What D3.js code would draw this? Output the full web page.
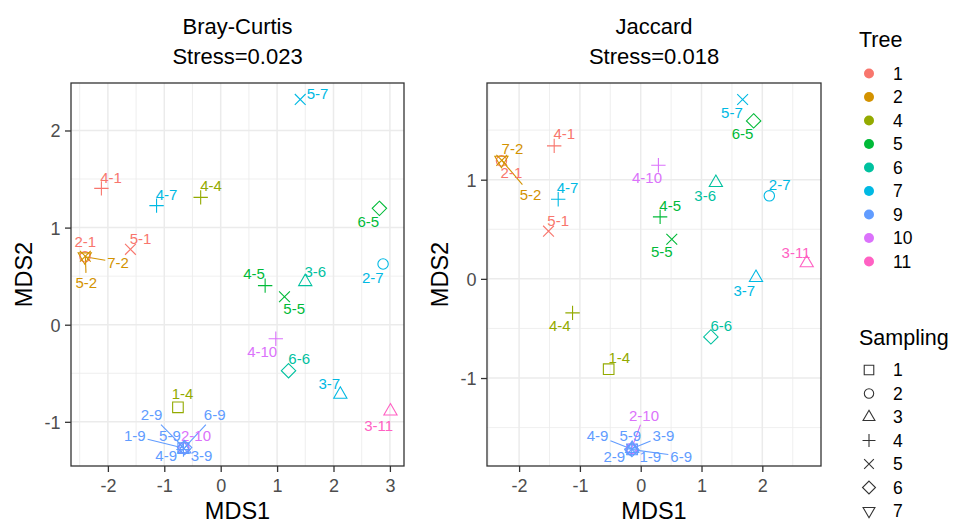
<!DOCTYPE html>
<html>
<head>
<meta charset="utf-8">
<script src="https://cdn.jsdelivr.net/npm/d3@7"></script>
<style>
  body { margin: 0; background: #fff; }
  svg { display: block; font-family: "Liberation Sans", Arial, Helvetica, sans-serif; }
</style>
</head>
<body>
<svg id="chart" width="962" height="523"></svg>
<script>
// ---------- data ----------
const sampling = [1, 1, 2, 2, 2, 2, 3, 3, 3, 3, 4, 4, 4, 4, 4, 4, 5, 5, 5, 5, 5, 6, 6, 6, 7];
const tree     = [4, 9, 1, 7, 9, 10, 6, 7, 9, 11, 1, 4, 5, 7, 9, 10, 1, 2, 5, 7, 9, 5, 6, 9, 2];

// Bray-Curtis NMDS coordinates
const bcX = [-0.758, -0.665, -2.406, 2.879, -0.655, -0.655, 1.499, 2.121, -0.645, 3.01,
             -2.115, -0.355, 0.788, -1.137, -0.66, 0.977, -1.6, -2.40, 1.131, 1.41,
             -0.65, 2.814, 1.203, -0.64, -2.41];
const bcY = [-0.851, -1.27, 0.70, 0.625, -1.265, -1.27, 0.443, -0.717, -1.28, -0.889,
             1.404, 1.311, 0.402, 1.226, -1.285, -0.144, 0.776, 0.705, 0.288, 2.32,
             -1.275, 1.198, -0.474, -1.265, 0.70];
// repelled label anchors (data units)
const bcLabelX = [-0.675, -1.523, -2.399, 2.696, -1.226, -0.438, 1.677, 1.925, -0.338, 2.802,
                  -1.943, -0.172, 0.592, -0.96, -0.966, 0.735, -1.422, -2.382, 1.303, 1.718,
                  -0.9, 2.618, 1.392, -0.107, -1.819];
const bcLabelY = [-0.707, -1.147, 0.855, 0.487, -0.93, -1.147, 0.546, -0.611, -1.353, -1.04,
                  1.517, 1.428, 0.529, 1.342, -1.353, -0.278, 0.889, 0.436, 0.165, 2.376,
                  -1.147, 1.061, -0.354, -0.93, 0.642];

// Jaccard NMDS coordinates
const jcX = [-0.527, -0.14, -2.29, 2.115, -0.155, -0.15, 1.236, 1.896, -0.14, 2.73,
             -1.423, -1.121, 0.319, -1.357, -0.155, 0.291, -1.516, -2.285, 0.511, 1.676,
             -0.148, 1.857, 1.154, -0.145, -2.291];
const jcY = [-0.911, -1.72, 1.19, 0.837, -1.725, -1.71, 0.971, 0.013, -1.71, 0.161,
             1.341, -0.343, 0.625, 0.803, -1.715, 1.146, 0.481, 1.195, 0.40, 1.808,
             -1.718, 1.593, -0.585, -1.722, 1.197];
const jcLabelX = [-0.352, 0.159, -2.126, 2.286, -0.434, 0.055, 1.06, 1.703, 0.374, 2.554,
                  -1.258, -1.33, 0.484, -1.203, -0.709, 0.104, -1.357, -1.813, 0.346, 1.5,
                  -0.17, 1.676, 1.324, 0.665, -2.11];
const jcLabelY = [-0.793, -1.788, 1.069, 0.951, -1.788, -1.375, 0.837, -0.121, -1.583, 0.266,
                  1.466, -0.474, 0.736, 0.921, -1.583, 1.022, 0.592, 0.854, 0.272, 1.677,
                  -1.583, 1.466, -0.474, -1.788, 1.314];

const treeLevels = [1, 2, 4, 5, 6, 7, 9, 10, 11];
const treeColors = ["#F8766D", "#D39200", "#93AA00", "#00BA38", "#00C19F", "#00B9E3", "#619CFF", "#DB72FB", "#FF61C3"];
const samplingLevels = [1, 2, 3, 4, 5, 6, 7];

const panels = [
  { title: "Bray-Curtis", stress: "Stress=0.023", X: bcX, Y: bcY, LX: bcLabelX, LY: bcLabelY,
    xDomain: [-2.654, 3.25], yDomain: [-1.455, 2.489], xTicks: [-2, -1, 0, 1, 2, 3], yTicks: [-1, 0, 1, 2],
    xMinor: [-2.5, -1.5, -0.5, 0.5, 1.5, 2.5], yMinor: [-0.5, 0.5, 1.5] },
  { title: "Jaccard", stress: "Stress=0.018", X: jcX, Y: jcY, LX: jcLabelX, LY: jcLabelY,
    xDomain: [-2.528, 2.965], yDomain: [-1.887, 1.975], xTicks: [-2, -1, 0, 1, 2], yTicks: [-1, 0, 1],
    xMinor: [-2.5, -1.5, -0.5, 0.5, 1.5, 2.5], yMinor: [-1.5, -0.5, 0.5, 1.5] }
];

// ---------- layout ----------
const panelBoxes = [
  { left: 71, right: 404, top: 83, bottom: 466, yTitleX: 32 },
  { left: 487, right: 821, top: 83, bottom: 466, yTitleX: 448 }
];

const color = d3.scaleOrdinal().domain(treeLevels).range(treeColors);
const tickFmt = d => String(d); // ASCII hyphen minus, as in the original

function shapePath(s, k = 1) {
  const p = d3.path();
  switch (s) {
    case 1: { const h = 5.3 * k; p.rect(-h, -h, 2 * h, 2 * h); break; }
    case 2: { p.arc(0, 0, 5.2 * k, 0, 2 * Math.PI); break; }
    case 3: { p.moveTo(0, -7.5 * k); p.lineTo(6.6 * k, 3.9 * k); p.lineTo(-6.6 * k, 3.9 * k); p.closePath(); break; }
    case 4: { const h = 7.2 * k; p.moveTo(-h, 0); p.lineTo(h, 0); p.moveTo(0, -h); p.lineTo(0, h); break; }
    case 5: { const h = 5.4 * k; p.moveTo(-h, -h); p.lineTo(h, h); p.moveTo(-h, h); p.lineTo(h, -h); break; }
    case 6: { const h = 7.2 * k; p.moveTo(0, -h); p.lineTo(h, 0); p.lineTo(0, h); p.lineTo(-h, 0); p.closePath(); break; }
    case 7: { p.moveTo(0, 7.5 * k); p.lineTo(6.6 * k, -3.9 * k); p.lineTo(-6.6 * k, -3.9 * k); p.closePath(); break; }
  }
  return p.toString();
}

const svg = d3.select("#chart");
const gridCol = "#EBEBEB";

panels.forEach((pn, pi) => {
  const b = panelBoxes[pi];
  const x = d3.scaleLinear().domain(pn.xDomain).range([b.left, b.right]);
  const y = d3.scaleLinear().domain(pn.yDomain).range([b.bottom, b.top]);
  const g = svg.append("g");

  // grid
  g.selectAll(".xminor").data(pn.xMinor.filter(v => x(v) > b.left && x(v) < b.right)).join("line")
    .attr("x1", d => x(d)).attr("x2", d => x(d)).attr("y1", b.top).attr("y2", b.bottom)
    .attr("stroke", gridCol).attr("stroke-width", 0.8);
  g.selectAll(".yminor").data(pn.yMinor.filter(v => y(v) > b.top && y(v) < b.bottom)).join("line")
    .attr("y1", d => y(d)).attr("y2", d => y(d)).attr("x1", b.left).attr("x2", b.right)
    .attr("stroke", gridCol).attr("stroke-width", 0.8);
  g.selectAll(".xmajor").data(pn.xTicks).join("line")
    .attr("x1", d => x(d)).attr("x2", d => x(d)).attr("y1", b.top).attr("y2", b.bottom)
    .attr("stroke", gridCol).attr("stroke-width", 1.5);
  g.selectAll(".ymajor").data(pn.yTicks).join("line")
    .attr("y1", d => y(d)).attr("y2", d => y(d)).attr("x1", b.left).attr("x2", b.right)
    .attr("stroke", gridCol).attr("stroke-width", 1.5);

  // axes
  const xAxis = g.append("g").attr("transform", `translate(0,${b.bottom})`)
    .call(d3.axisBottom(x).tickValues(pn.xTicks).tickSize(6).tickPadding(7.5).tickFormat(tickFmt));
  const yAxis = g.append("g").attr("transform", `translate(${b.left},0)`)
    .call(d3.axisLeft(y).tickValues(pn.yTicks).tickSize(6).tickPadding(4.5).tickFormat(tickFmt));
  [xAxis, yAxis].forEach(a => {
    a.select(".domain").remove();
    a.selectAll(".tick line").attr("stroke", "#333").attr("stroke-width", 1.3);
    a.selectAll(".tick text").attr("fill", "#4D4D4D").style("font-size", "18px")
      .style("font-family", "'Liberation Sans', Arial, sans-serif");
  });
  yAxis.selectAll(".tick text").attr("dy", "0.36em");

  // border
  g.append("rect").attr("x", b.left).attr("y", b.top).attr("width", b.right - b.left).attr("height", b.bottom - b.top)
    .attr("fill", "none").attr("stroke", "#333").attr("stroke-width", 1.3);

  // titles
  const cx = (b.left + b.right) / 2;
  g.append("text").attr("x", cx).attr("y", 34).attr("text-anchor", "middle").style("font-size", "22px").text(pn.title);
  g.append("text").attr("x", cx).attr("y", 64).attr("text-anchor", "middle").style("font-size", "22px").text(pn.stress);
  g.append("text").attr("x", cx).attr("y", 519).attr("text-anchor", "middle").style("font-size", "23.5px").text("MDS1");
  g.append("text").attr("transform", `translate(${b.yTitleX},${(b.top + b.bottom) / 2}) rotate(-90)`)
    .attr("text-anchor", "middle").style("font-size", "23.5px").text("MDS2");

  const data = sampling.map((s, i) => ({
    s, t: tree[i], label: s + "-" + tree[i],
    px: x(pn.X[i]), py: y(pn.Y[i]), lx: x(pn.LX[i]), ly: y(pn.LY[i])
  }));

  const layer = g.append("g");
  const labels = layer.selectAll(".lab").data(data).join("text")
    .attr("x", d => d.lx).attr("y", d => d.ly).attr("dy", "0.36em")
    .attr("text-anchor", "middle").attr("fill", d => color(d.t))
    .style("font-size", "15px").text(d => d.label);

  // segments (ggrepel style)
  labels.each(function (d) {
    const w = this.getComputedTextLength();
    const hw = w / 2 + 2, hh = 7.5 + 2;
    const dx = d.px - d.lx, dy = d.py - d.ly;
    const s = Math.min(Math.abs(dx) > 1e-6 ? hw / Math.abs(dx) : Infinity, Math.abs(dy) > 1e-6 ? hh / Math.abs(dy) : Infinity);
    if (s >= 1) return;
    const ex = d.lx + dx * s, ey = d.ly + dy * s;
    const L = Math.hypot(d.px - ex, d.py - ey);
    if (L < 12) return;
    layer.insert("line", ":first-child")
      .attr("x1", d.px).attr("y1", d.py).attr("x2", ex).attr("y2", ey)
      .attr("stroke", color(d.t)).attr("stroke-width", 1.1);
  });

  // points
  layer.selectAll(".pt").data(data).join("path")
    .attr("transform", d => `translate(${d.px},${d.py})`)
    .attr("d", d => shapePath(d.s))
    .attr("fill", "none").attr("stroke", d => color(d.t)).attr("stroke-width", 1.1);
});

// ---------- legends ----------
const lg = svg.append("g");
lg.append("text").attr("x", 859).attr("y", 47).style("font-size", "21.5px").text("Tree");
treeLevels.forEach((t, i) => {
  const yy = 73.5 + i * 23.5;
  lg.append("circle").attr("cx", 869).attr("cy", yy).attr("r", 5).attr("fill", color(t));
  lg.append("text").attr("x", 893).attr("y", yy).attr("dy", "0.36em").style("font-size", "17.5px").text(t);
});
lg.append("text").attr("x", 859).attr("y", 345).style("font-size", "21.5px").text("Sampling");
samplingLevels.forEach((s, i) => {
  const yy = 370 + i * 23.5;
  lg.append("path").attr("transform", `translate(869,${yy})`).attr("d", shapePath(s, 0.9))
    .attr("fill", "none").attr("stroke", "#333").attr("stroke-width", 1.1);
  lg.append("text").attr("x", 893).attr("y", yy).attr("dy", "0.36em").style("font-size", "17.5px").text(s);
});
</script>
</body>
</html>
